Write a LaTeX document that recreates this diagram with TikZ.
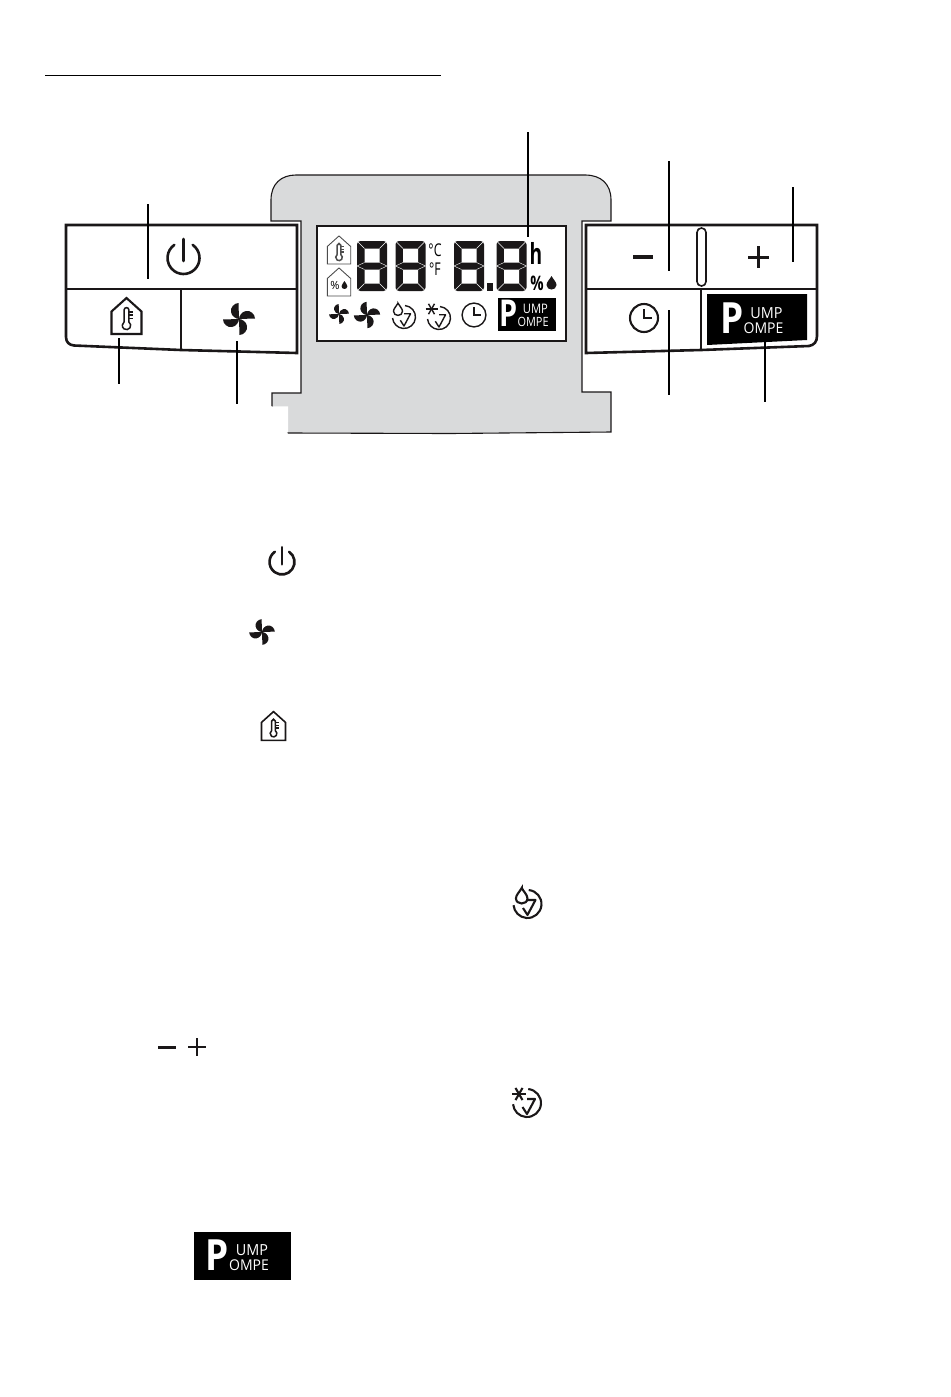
\documentclass[tikz,border=0pt]{standalone}
\usepackage{fontspec}
\usepackage{xcolor}
\usepackage{tikz}
\setmainfont{Liberation Sans}
\newfontfamily\markfont{Open Sans}
\definecolor{bodygray}{RGB}{217, 218, 219}
\definecolor{inkblack}{RGB}{26, 23, 24}
\newcommand{\housepath}{(-15,18) -- (15,18) -- (15,-4.5) -- (0,-18) -- (-15,-4.5) -- cycle}
\newcommand{\droppath}{(0,-7) .. controls (1.5,-4) and (5,-1) .. (5,2)
      .. controls (5,8) and (-5,8) .. (-5,2) .. controls (-5,-1) and (-1.5,-4) .. cycle}
\tikzset{
  panelline/.style={draw=inkblack, line width=1.3pt},
  iconline/.style={draw=inkblack, line width=1.05pt},
  leadline/.style={draw=black, line width=.9pt},
  dsptext/.style={inner sep=0pt, outer sep=0pt, text=black},
  pics/fanmark/.style={code={
    \foreach \a in {0,90,180,270} {
      \fill[inkblack, rotate=\a] (0,0) -- (-.5,-16) .. controls (-5,-16) and (-9,-11) .. (-8,-7)
        .. controls (-7.5,-3) and (-3,0) .. (0,0);
    }
  }},
  pics/clockmark/.style={code={
    \draw[iconline] (0,0) circle (14);
    \draw[iconline] (0,-9) -- (0,0) -- (8,0);
  }},
  pics/powermark/.style={code={
    \draw[iconline, line cap=round, line width=1.3pt] (-55:16) arc (-55:235:16);
    \draw[iconline, line cap=round, line width=1.3pt] (0,-19) -- (0,3);
  }},
  pics/checkmark/.style={code={
    \draw[iconline] (-85:14) arc (-85:175:14);
    \draw[iconline, line join=round] (0,-4) -- (8,-4) -- (0,11) -- (-4.5,4);
  }},
  pics/thermohouse/.style={code={
    \draw[iconline, fill=white] \housepath;
    % bulb and tube
    \draw[iconline, line width=.75pt] (-2.4,6) -- (-2.4,-6) arc (180:360:2.4) -- (2.4,6)
      arc (-55:235:4.2);
    \foreach \y in {-4,-1,2.5} { \draw[iconline, line width=.6pt] (2.4,\y) -- (6.5,\y); }
  }},
  pics/humidhouse/.style={code={
    \draw[iconline, fill=white] \housepath;
    \node[dsptext, font=\markfont\fontsize{7.2}{8}\selectfont, transform shape] (-pct) at (-5,5) {\%};
    \fill[inkblack, shift={(7,4)}, scale=.75] \droppath;
  }},
  pics/pumpmark/.style={code={
    \node[dsptext, anchor=base, xscale=.86, transform shape, text=white,
      font=\markfont\fontsize{21.5}{22}\bfseries\selectfont] (-big) at (-25,14.5) {P};
    \node[dsptext, anchor=base, yscale=1.06, transform shape, text=white,
      font=\markfont\fontsize{7.2}{8}\selectfont] (-top) at (9.5,-1) {UMP};
    \node[dsptext, anchor=base, yscale=1.06, transform shape, text=white,
      font=\markfont\fontsize{7}{8}\selectfont] (-low) at (6.5,14) {OMPE};
  }},
  pics/segdigit/.style={code={
    \fill[inkblack, rounded corners=1.7pt] (-15,-25) rectangle (15,25);
    \fill[white] (-7.5,-17.5) rectangle (7.5,-3.5) (-7.5,3.5) rectangle (7.5,17.5);
    % gaps between segments
    \foreach \xa/\ya/\xb/\yb in {-15/-25/-7.5/-17.5, 15/-25/7.5/-17.5, -15/25/-7.5/17.5, 15/25/7.5/17.5,
        -15/0/-7.5/-3.5, 15/0/7.5/-3.5, -15/0/-7.5/3.5, 15/0/7.5/3.5} {
      \draw[white, line width=.2pt] (\xa,\ya) -- (\xb,\yb);
    }
  }},
}
\begin{document}
\begin{tikzpicture}[x=.5pt, y=-.5pt]
  \useasboundingbox (0,0) rectangle (950,1397);
  % rule above the figure
  \coordinate (rulea) at (45,75);
  \coordinate (ruleb) at (441,75);
  \draw[leadline, line width=.45pt] (rulea) -- (ruleb);
  % grey body
  \draw[draw=inkblack, line width=.55pt, fill=bodygray] (288,433) -- (272,406) -- (272,393) -- (301,393)
    -- (301,221) -- (271,221) -- (271,200) .. controls (271,184) and (281,175) .. (296,175)
    -- (585,175) .. controls (601,175) and (611,184) .. (611,200) -- (611,221) -- (582,221)
    -- (582,392) -- (611,392) -- (611,432) -- (450,433.5) -- (288,433);
  \fill[white] (270,406.3) -- (288,406.3) -- (288,432.6) -- (270,434) -- cycle;
  % left panel
  \draw[panelline, fill=white] (66,225) -- (297,225) -- (297,353) -- (181,350) -- (74,345.5)
    .. controls (69,345) and (66,342) .. (66,337) -- cycle;
  \draw[panelline] (66,289) -- (297,289);
  \draw[panelline] (181,289) -- (181,350);
  % right panel
  \draw[panelline, fill=white] (586,225) -- (817,225) -- (817,336) .. controls (817,342) and (814,345) .. (809,346)
    -- (701,350) -- (586,353) -- cycle;
  \draw[panelline] (586,289) -- (817,289);
  \draw[panelline] (701,289) -- (701,350);
  \draw[iconline, line width=.8pt, rounded corners=2.2pt] (697,228) rectangle (706,286);
  \fill[black] (707,294) -- (807,294) -- (807,340) -- (707,345) -- cycle;
  % display
  \draw[draw=inkblack, line width=1.1pt, fill=white] (317,226) rectangle (566,341);
  % panel icons
  \pic at (183.5,258) {powermark};
  \pic at (126.5,316) {thermohouse};
  \pic at (239,319) {fanmark};
  \draw[inkblack, line width=2pt] (633,257) -- (653,257);
  \draw[inkblack, line width=1.5pt] (748,257) -- (769,257) (758.5,246) -- (758.5,268);
  \pic at (644,318) {clockmark};
  \pic (pumpkey) at (757,319) {pumpmark};
  % display icons
  \pic[scale=.78, iconline/.append style={draw=black!70, line width=.45pt}] at (339,250) {thermohouse};
  \pic[scale=.78, iconline/.append style={draw=black!70, line width=.45pt}] (dsphum) at (339,282) {humidhouse};
  \foreach \x in {372,410.5,469,511.5} { \pic at (\x,266) {segdigit}; }
  \fill[inkblack] (487,283) rectangle (493,291);
  \node[dsptext, xscale=.7, font=\markfont\fontsize{8.8}{9}\selectfont] (degc) at (435,250) {°C};
  \node[dsptext, xscale=.7, font=\markfont\fontsize{8.8}{9}\selectfont] (degf) at (435,269) {°F};
  \node[dsptext, xscale=.66, font=\markfont\fontsize{14.5}{16}\bfseries\selectfont] (hour) at (536,253) {h};
  \node[dsptext, xscale=.74, font=\markfont\fontsize{10}{11}\bfseries\selectfont] (dsppct) at (537,283) {\%};
  \fill[inkblack, shift={(551.5,283)}] \droppath;
  \pic[scale=.62] at (339,314) {fanmark};
  \pic[scale=.82] at (367,315) {fanmark};
  \pic[scale=.82, iconline/.append style={line width=.7pt}] (dspdry) at (404,317) {checkmark};
  \draw[iconline, line width=.7pt, fill=white, shift={(398,309.5)}, scale=.9] \droppath;
  \pic[scale=.82, iconline/.append style={line width=.7pt}] (dspfrost) at (439,318) {checkmark};
  \foreach \a in {0,60,120} {
    \draw[inkblack, line width=.7pt, shift={(431.5,309)}, rotate=\a] (-6,0) -- (6,0);
  }
  \pic[scale=.85, iconline/.append style={line width=.7pt}] at (474,315) {clockmark};
  \fill[black] (498,298) rectangle (556,331);
  \pic[xscale=.78, yscale=.86] (dsppump) at (528,314.5) {pumpmark};
  % leader lines
  \foreach \x/\ya/\yb [count=\n] in {148/204/279, 119/338/384, 237/341/404, 528/132/237,
      669/161/271, 793/187/262, 669/310/395, 765/342/402} {
    \coordinate (lead\n a) at (\x,\ya);
    \coordinate (lead\n b) at (\x,\yb);
    \draw[leadline] (lead\n a) -- (lead\n b);
  }
  % icons in the text column
  \pic[scale=.78] at (282,562) {powermark};
  \pic[scale=.8] at (262,632) {fanmark};
  \pic[scale=.8, iconline/.append style={line width=.8pt}] at (273.5,726) {thermohouse};
  \draw[inkblack, line width=1.5pt] (158,1047) -- (176,1047);
  \draw[inkblack, line width=1.3pt] (188,1047) -- (206,1047) (197,1038) -- (197,1056);
  \pic (txtdry) at (527.5,904) {checkmark};
  \draw[iconline, fill=white, shift={(521.7,896)}, scale=1.15] \droppath;
  \pic (txtfrost) at (527,1103) {checkmark};
  \foreach \a in {0,60,120} {
    \draw[inkblack, line width=1.05pt, shift={(519,1094)}, rotate=\a] (-7,0) -- (7,0);
  }
  \fill[black] (194,1232) rectangle (291,1280);
  \pic (txtpump) at (242.5,1256) {pumpmark};
\end{tikzpicture}
\end{document}
